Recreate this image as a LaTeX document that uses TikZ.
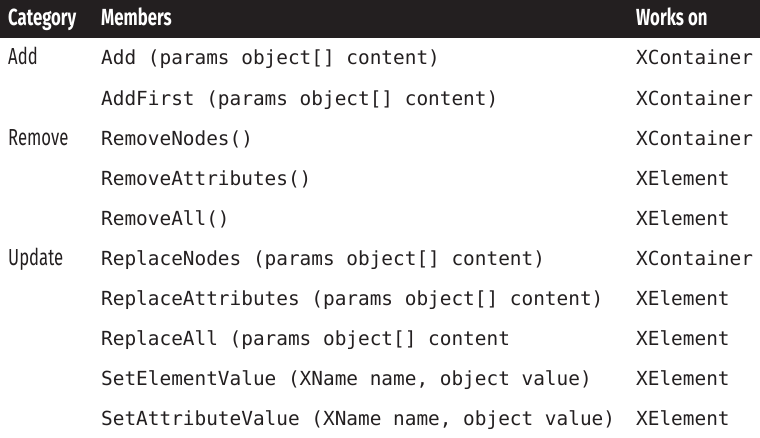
\documentclass[tikz,border=0pt]{standalone}
\usepackage{fontspec}
\newfontfamily\hdrfont[FakeStretch=0.72]{Fira Sans Bold}
\newfontfamily\catfont[FakeStretch=0.72]{Fira Sans}
\newfontfamily\codefont{DejaVu Sans Mono}
\definecolor{barcol}{HTML}{231F20}
\definecolor{txtcol}{HTML}{231F20}
\tikzset{
  hdr/.style={anchor=base west, inner sep=0pt, text=white, font=\fontsize{23.3}{25}\hdrfont},
  cat/.style={anchor=base west, inner sep=0pt, text=txtcol, font=\fontsize{23.2}{25}\catfont},
  code/.style={anchor=base west, inner sep=0pt, text=txtcol, font=\fontsize{19.4}{22}\codefont},
}
\begin{document}
\begin{tikzpicture}[x=1pt,y=-1pt]
\useasboundingbox (0,0) rectangle (760,438);
\fill[barcol] (0,0) rectangle (760,38.3);
\node[hdr] (h1) at (8,26) {Category};
\node[hdr] (h2) at (101,26) {Members};
\node[hdr] (h3) at (636,26) {Works on};
% categories
\node[cat] (c1) at (8,65) {Add};
\node[cat] (c2) at (8,145.2) {Remove};
\node[cat] (c3) at (8,265.5) {Update};
% members
\node[code] (m1) at (101,65) {Add (params object[] content)};
\node[code] (m2) at (101,105.1) {AddFirst (params object[] content)};
\node[code] (m3) at (101,145.2) {RemoveNodes()};
\node[code] (m4) at (101,185.3) {RemoveAttributes()};
\node[code] (m5) at (101,225.4) {RemoveAll()};
\node[code] (m6) at (101,265.5) {ReplaceNodes (params object[] content)};
\node[code] (m7) at (101,305.6) {ReplaceAttributes (params object[] content)};
\node[code] (m8) at (101,345.7) {ReplaceAll (params object[] content};
\node[code] (m9) at (101,385.8) {SetElementValue (XName name, object value)};
\node[code] (m10) at (101,425.9) {SetAttributeValue (XName name, object value)};
% works on
\node[code] (w1) at (636,65) {XContainer};
\node[code] (w2) at (636,105.1) {XContainer};
\node[code] (w3) at (636,145.2) {XContainer};
\node[code] (w4) at (636,185.3) {XElement};
\node[code] (w5) at (636,225.4) {XElement};
\node[code] (w6) at (636,265.5) {XContainer};
\node[code] (w7) at (636,305.6) {XElement};
\node[code] (w8) at (636,345.7) {XElement};
\node[code] (w9) at (636,385.8) {XElement};
\node[code] (w10) at (636,425.9) {XElement};
\end{tikzpicture}
\end{document}
